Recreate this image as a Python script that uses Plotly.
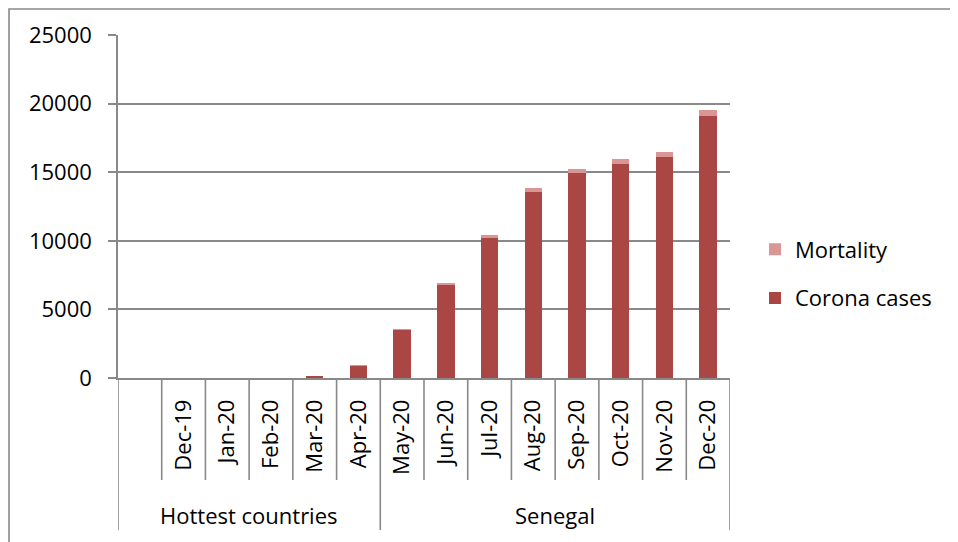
import plotly.graph_objects as go

# ---- data ----
months = [" ", "Dec-19", "Jan-20", "Feb-20", "Mar-20", "Apr-20", "May-20", "Jun-20",
          "Jul-20", "Aug-20", "Sep-20", "Oct-20", "Nov-20", "Dec-20"]
corona_cases = [None, 0, 0, 0, 150, 900, 3530, 6780, 10200, 13560, 14920, 15600, 16110, 19130]
mortality = [None, 0, 0, 0, 0, 10, 40, 120, 215, 310, 330, 335, 340, 405]
groups = ["Hottest countries", "Senegal"]
group_sizes = [6, 8]
y_ticks = [0, 5000, 10000, 15000, 20000, 25000]

# ---- layout geometry (page body has an 8px margin) ----
OFF = 8
W, H = 958 - OFF, 542 - OFF
L, R, T, B = 118 - OFF, 730 - OFF, 35 - OFF, 378 - OFF
pw, ph = R - L, B - T

def px_x(x):
    return (x - OFF - L) / pw

def px_y(y):
    return (B - (y - OFF)) / ph

LINE = "#898989"
FONT = "Open Sans"
FS = 22

fig = go.Figure()
fig.add_trace(go.Bar(x=months, y=corona_cases, name="Corona cases",
                     marker=dict(color="#AA4643", line=dict(width=0)),
                     legendgroup="a", legendrank=2))
fig.add_trace(go.Bar(x=months, y=mortality, name="Mortality",
                     marker=dict(color="#D99694", line=dict(width=0)),
                     legendgroup="b", legendrank=1))

shapes = []
n = len(months)
group_edges = [-0.5]
for s in group_sizes:
    group_edges.append(group_edges[-1] + s)
for k in range(n + 1):
    b = k - 0.5
    y_end = px_y(530) if b in group_edges else px_y(480)
    shapes.append(dict(type="line", xref="x", yref="paper", x0=b, x1=b,
                       y0=0, y1=y_end, line=dict(color=LINE, width=1.6)))
# outer frame
shapes.append(dict(type="rect", xref="paper", yref="paper",
                   x0=px_x(9), x1=px_x(975), y0=px_y(560), y1=px_y(9),
                   line=dict(color=LINE, width=1.6), fillcolor="rgba(0,0,0,0)", layer="below"))

annotations = []
for g, a, b in zip(groups, group_edges[:-1], group_edges[1:]):
    annotations.append(dict(text=g, xref="x", yref="paper", x=(a + b) / 2, y=px_y(515),
                            showarrow=False, xanchor="center", yanchor="middle",
                            font=dict(family=FONT, size=FS, color="black")))

fig.update_layout(
    width=W, height=H,
    margin=dict(l=L, r=W - R, t=T, b=H - B, autoexpand=False),
    paper_bgcolor="white", plot_bgcolor="white",
    barmode="stack", bargap=0.6,
    font=dict(family=FONT, size=FS, color="black"),
    xaxis=dict(type="category", categoryorder="array", categoryarray=months,
               range=[-0.5, n - 0.5], tickangle=-90, showgrid=False,
               showline=True, linecolor=LINE, linewidth=1.6,
               ticks="", ticklabelstandoff=11, tickfont=dict(family=FONT, size=FS)),
    yaxis=dict(range=[0, 25000], tickvals=y_ticks, tickformat="d",
               showgrid=True, gridcolor=LINE, gridwidth=1.6,
               showline=True, linecolor=LINE, linewidth=1.6, ticks="outside", ticklen=8,
               tickcolor=LINE, tickwidth=1.6, ticklabelstandoff=12, zeroline=False,
               tickfont=dict(family=FONT, size=FS)),
    legend=dict(x=px_x(755), y=px_y(274), xanchor="left", yanchor="middle",
                tracegroupgap=17, font=dict(family=FONT, size=FS)),
    shapes=shapes, annotations=annotations,
)

fig.write_html("out.html")
